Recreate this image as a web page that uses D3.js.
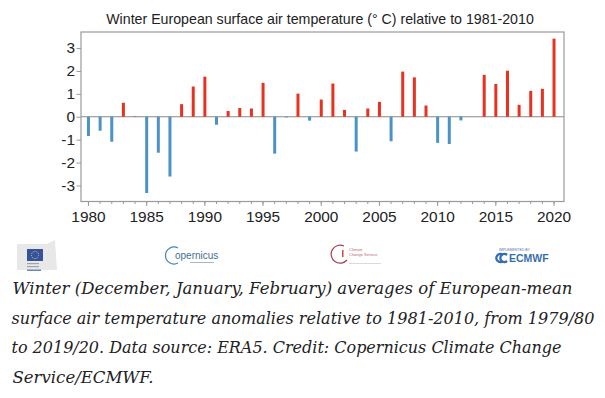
<!DOCTYPE html>
<html>
<head>
<meta charset="utf-8">
<script src="https://cdn.jsdelivr.net/npm/d3@7"></script>
<style>
  html, body { margin: 0; padding: 0; background: #fff; }
  svg { display: block; }
</style>
</head>
<body>
<div id="container"></div>
<script>
const W = 605;
const H = 398;

// winters 1979/80 .. 2019/20, labelled by the year of January
const years = d3.range(1980, 2021);
const anomalies = [
  -0.84, -0.61, -1.09, 0.61, 0.02, -3.33, -1.57, -2.61, 0.55, 1.32,
  1.75, -0.35, 0.25, 0.38, 0.36, 1.48, -1.61, -0.03, 1.01, -0.17,
  0.75, 1.45, 0.30, -1.52, 0.36, 0.65, -1.07, 1.97, 1.72, 0.49,
  -1.14, -1.19, -0.16, 0.0, 1.83, 1.43, 2.01, 0.52, 1.13, 1.22,
  3.41
];
const yTicks = [-3, -2, -1, 0, 1, 2, 3];
const xTicks = [1980, 1985, 1990, 1995, 2000, 2005, 2010, 2015, 2020];
const title = "Winter European surface air temperature (\u00b0 C) relative to 1981-2010";
const captionLines = [
  "Winter (December, January, February) averages of European-mean",
  "surface air temperature anomalies relative to 1981-2010, from 1979/80",
  "to 2019/20. Data source: ERA5. Credit: Copernicus Climate Change",
  "Service/ECMWF."
];
// widths the caption lines have in the original picture
const captionWidths = [560, 583, 550, 141];

const plot = { left: 81, right: 564, top: 32, bottom: 201.5 };
const red = "#e8321f";
const blue = "#4b93c7";
const frameColor = "#9a9a9a";

const svg = d3.select("#container")
  .append("svg")
  .attr("width", W)
  .attr("height", H);

const x = d3.scaleLinear()
  .domain([1979.4, 2020.9])
  .range([plot.left, plot.right]);

const y = d3.scaleLinear()
  .domain([-3.7, 3.7])
  .range([plot.bottom, plot.top]);

svg.append("text")
  .text(title)
  .attr("x", 320)
  .attr("y", 24)
  .attr("text-anchor", "middle")
  .style("font-family", "Liberation Sans, Arial, sans-serif")
  .style("font-size", "14.2px")
  .style("fill", "#222");

// zero line
svg.append("line")
  .attr("x1", plot.left)
  .attr("x2", plot.right)
  .attr("y1", y(0))
  .attr("y2", y(0))
  .attr("stroke", "#888")
  .attr("stroke-width", 1);

const data = years.map((yr, i) => [yr, anomalies[i]]);
const barW = 3;

svg.selectAll("rect.bar")
  .data(data)
  .enter()
  .append("rect")
  .attr("class", "bar")
  .attr("x", d => x(d[0]) - barW / 2 + 0.5)
  .attr("y", d => y(Math.max(0, d[1])))
  .attr("width", barW)
  .attr("height", d => Math.abs(y(d[1]) - y(0)))
  .style("fill", d => (d[1] >= 0 ? red : blue));

// frame
svg.append("rect")
  .attr("x", plot.left)
  .attr("y", plot.top)
  .attr("width", plot.right - plot.left)
  .attr("height", plot.bottom - plot.top)
  .attr("fill", "none")
  .attr("stroke", frameColor)
  .attr("stroke-width", 1.2);

// minor x ticks every year
svg.append("g")
  .attr("transform", `translate(0, ${plot.bottom})`)
  .call(d3.axisBottom(x).tickValues(years).tickSize(2.5).tickFormat(""))
  .call(g => g.select(".domain").remove())
  .call(g => g.selectAll("line").attr("stroke", frameColor));

const xAxis = svg.append("g")
  .attr("transform", `translate(0, ${plot.bottom})`)
  .call(d3.axisBottom(x).tickValues(xTicks).tickSize(4.5).tickPadding(5).tickFormat(d => String(d)));
xAxis.select(".domain").remove();
xAxis.selectAll("line").attr("stroke", frameColor);
xAxis.selectAll("text")
  .style("font-family", "Liberation Sans, Arial, sans-serif")
  .style("font-size", "15.4px")
  .style("fill", "#222");

const yAxis = svg.append("g")
  .attr("transform", `translate(${plot.left}, 0)`)
  .call(d3.axisLeft(y).tickValues(yTicks).tickSize(4.5).tickPadding(1.5).tickFormat(d => String(d)));
yAxis.select(".domain").remove();
yAxis.selectAll("line").attr("stroke", frameColor);
yAxis.selectAll("text")
  .style("font-family", "Liberation Sans, Arial, sans-serif")
  .style("font-size", "15.4px")
  .style("fill", "#222");

// logo strip (rough sketches of the four partner logos)
const logos = svg.append("g").attr("opacity", 0.9);

const eu = logos.append("g").attr("transform", "translate(17, 240)");
eu.append("path")
  .attr("d", "M0,4 L30,4 L38,0 L40,30 L0,30 Z")
  .attr("fill", "#e6e6e6");
eu.append("rect").attr("x", 10).attr("y", 9).attr("width", 16).attr("height", 12).attr("fill", "#1f3f99");
eu.append("circle").attr("cx", 18).attr("cy", 15).attr("r", 3.6)
  .attr("fill", "none").attr("stroke", "#f2d21b").attr("stroke-width", 0.9).attr("stroke-dasharray", "1,1");
eu.append("rect").attr("x", 10).attr("y", 23).attr("width", 12).attr("height", 1.2).attr("fill", "#999");
eu.append("rect").attr("x", 10).attr("y", 26).attr("width", 12).attr("height", 1.2).attr("fill", "#999");
eu.append("rect").attr("x", 10).attr("y", 29.5).attr("width", 14).attr("height", 1.5).attr("fill", "#5a7bbd");

const cop = logos.append("g").attr("transform", "translate(172, 256)");
cop.append("path")
  .attr("d", "M6,-8 A8.5,8.5 0 1 0 6,7")
  .attr("fill", "none").attr("stroke", "#2a7ab5").attr("stroke-width", 1.2);
cop.append("text").text("opernicus")
  .attr("x", 3).attr("y", 3)
  .style("font-family", "Liberation Sans, Arial, sans-serif")
  .style("font-size", "10px")
  .style("fill", "#2f5f8a");
cop.append("rect").attr("x", 18).attr("y", 6).attr("width", 24).attr("height", 1).attr("fill", "#aab");

const c3s = logos.append("g").attr("transform", "translate(338, 254)");
c3s.append("path")
  .attr("d", "M6,-8 A9,9 0 1 0 9,6")
  .attr("fill", "none").attr("stroke", "#9b2c3a").attr("stroke-width", 1.2);
c3s.append("rect").attr("x", 4).attr("y", -4).attr("width", 1.5).attr("height", 7).attr("fill", "#c0392b");
c3s.append("text").text("Climate").attr("x", 11).attr("y", -3)
  .style("font-family", "Liberation Sans, Arial, sans-serif").style("font-size", "4px").style("fill", "#b55");
c3s.append("text").text("Change Service").attr("x", 11).attr("y", 2)
  .style("font-family", "Liberation Sans, Arial, sans-serif").style("font-size", "4px").style("fill", "#b55");
c3s.append("rect").attr("x", 11).attr("y", 9).attr("width", 32).attr("height", 0.8).attr("fill", "#ccc");

const ecm = logos.append("g").attr("transform", "translate(497, 260)");
ecm.append("text").text("IMPLEMENTED BY").attr("x", 2).attr("y", -9)
  .style("font-family", "Liberation Sans, Arial, sans-serif").style("font-size", "3.5px").style("fill", "#4466aa");
ecm.append("path")
  .attr("d", "M6,-5 A4,4 0 1 0 6,1 M10,-5 A4,4 0 1 0 10,1")
  .attr("fill", "none").attr("stroke", "#1d5fa8").attr("stroke-width", 2.4);
ecm.append("text").text("ECMWF").attr("x", 12).attr("y", 1.5)
  .style("font-family", "Liberation Sans, Arial, sans-serif")
  .style("font-size", "10.5px").style("font-weight", "bold")
  .style("fill", "#1d5fa8");

// caption
const caption = svg.append("g");
const capLines = caption.selectAll("text")
  .data(captionLines)
  .enter()
  .append("text")
  .text(d => d)
  .attr("x", (d, i) => (i === 1 || i === 2 ? 11.5 : 12.5))
  .attr("y", (d, i) => 294 + i * 29.6)
  .style("font-family", "DejaVu Serif, Liberation Serif, serif")
  .style("font-style", "italic")
  .style("font-size", "16px")
  .style("fill", "#222");

// fit the widest line, then pin every line to the width it has in the original
const measured = capLines.nodes()[1].getComputedTextLength();
const capSize = 16 * captionWidths[1] / measured;
capLines.style("font-size", capSize + "px")
  .attr("textLength", (d, i) => captionWidths[i])
  .attr("lengthAdjust", "spacingAndGlyphs");
</script>
</body>
</html>
